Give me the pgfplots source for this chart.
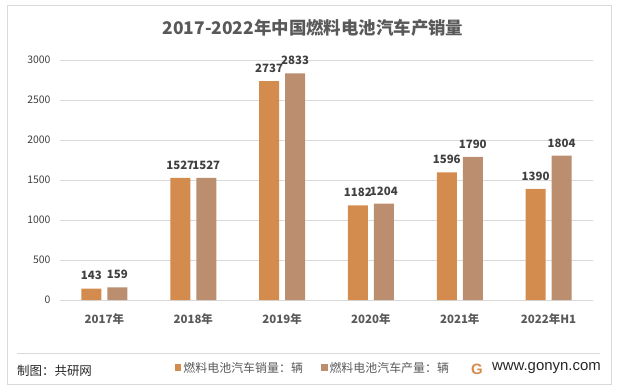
\documentclass[border=0pt]{standalone}
\usepackage{pgfplots}
\pgfplotsset{compat=1.18}
\usepackage{fontspec}
\setmainfont{Noto Sans CJK SC}
\newfontfamily\arialfont{Liberation Sans}
\definecolor{salesc}{HTML}{D48C4E}
\definecolor{prodc}{HTML}{BA8E6E}
\definecolor{txt}{HTML}{595959}
\definecolor{numc}{HTML}{404040}
\definecolor{gridc}{HTML}{D9D9D9}
\pgfplotstableread{
x sales prod
0 143 159
1 1527 1527
2 2737 2833
3 1182 1204
4 1596 1790
5 1390 1804
}\datatable
\begin{document}
\begin{tikzpicture}
\begin{axis}[
  scale only axis, width=533bp, height=240bp,
  xmin=-0.5, xmax=5.5, ymin=0, ymax=3000,
  ytick={0,500,...,3000},
  xtick={0,...,5},
  xticklabels={2017年,2018年,2019年,2020年,2021年,2022年H1},
  axis line style={draw=none},
  major tick length=0pt,
  ymajorgrids, grid style={color=gridc, line width=0.8pt},
  /pgf/number format/assume math mode=true,
  /pgf/number format/1000 sep={},
  yticklabel style={font=\fontsize{10.5}{12}\selectfont, text=numc, xshift=-6bp},
  xticklabel style={font=\bfseries\fontsize{11.5}{13}\selectfont, text=txt, yshift=-10bp},
  ybar, bar width=20bp,
  clip=false,
  nodes near coords,
  every node near coord/.append style={font=\bfseries\fontsize{11.5}{12}\selectfont, text=numc, yshift=5bp, /pgf/number format/assume math mode=true, /pgf/number format/1000 sep={}},
  legend columns=2,
  legend style={at={(0.4747,-0.283)}, anchor=center, draw=none, fill=none,
    font=\fontsize{12}{14}\selectfont, text=txt,
    /tikz/every even column/.append style={column sep=16bp}},
]
\addplot[fill=salesc, draw=none, bar shift=-13bp,
  legend image code/.code={\fill[salesc] (0bp,-3.5bp) rectangle (6.5bp,4bp);}]
  table[x=x, y=sales] {\datatable};
\addlegendentry{燃料电池汽车销量：辆}
\addplot[fill=prodc, draw=none, bar shift=13bp,
  legend image code/.code={\fill[prodc] (0bp,-3.5bp) rectangle (6.5bp,4bp);}]
  table[x=x, y=prod] {\datatable};
\addlegendentry{燃料电池汽车产量：辆}
\coordinate (O) at (axis description cs:0,0);
\end{axis}
% pixel frame: (px,py) -> (px-60, 300-py) relative to axis origin O
\begin{scope}[shift={(O)}, x=1bp, y=1bp]
\draw[color=gridc] (-53,-84) rectangle (551,295);
\draw[color=gridc] (-43,-53) -- (540,-53);
\node[font=\bfseries\fontsize{17.5}{20}\selectfont, text=txt] at (253,272) {2017-2022年中国燃料电池汽车产销量};
\node[anchor=west, font=\fontsize{12.5}{14}\selectfont, text=black!85, inner sep=0] at (-43,-71) {制图：共研网};
\node[anchor=east, font=\arialfont\fontsize{15}{17}\selectfont, text=black!85, inner sep=0] at (541,-68) {www.gonyn.com};
\node[font=\arialfont\bfseries\fontsize{15}{17}\selectfont, text=salesc, inner sep=0] at (417,-69) {G};
\pgfresetboundingbox
\path (-60,-90) rectangle (561,300);
\end{scope}
\end{tikzpicture}
\end{document}
